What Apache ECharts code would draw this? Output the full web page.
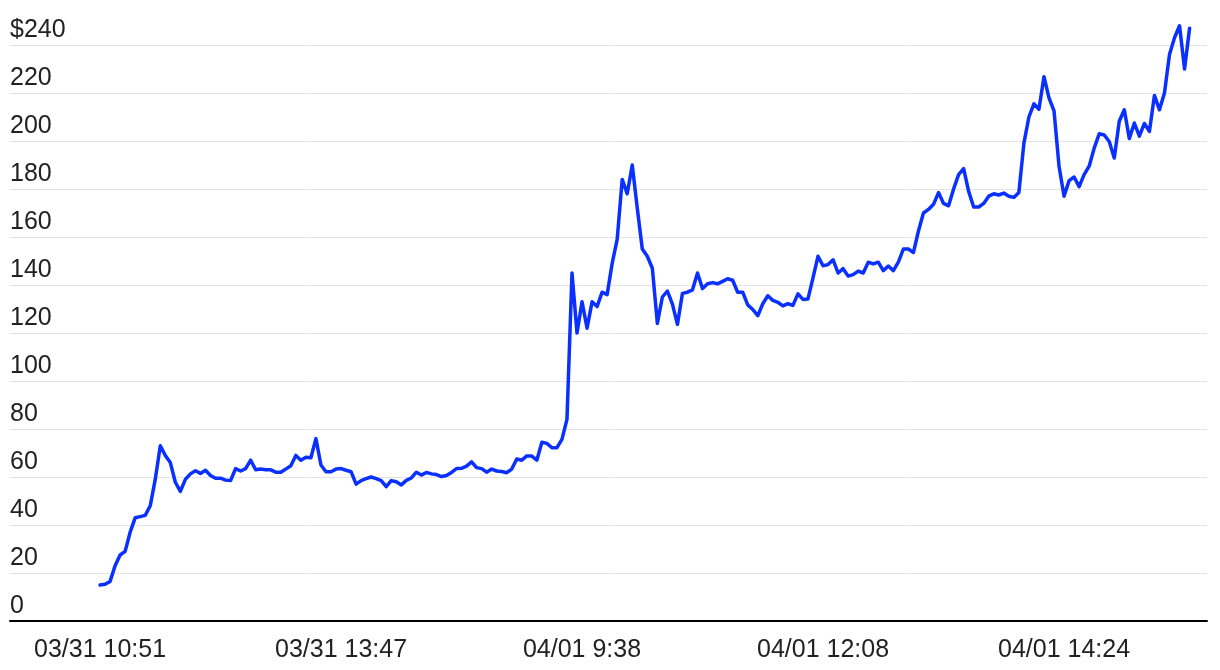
<!DOCTYPE html>
<html>
<head>
<meta charset="utf-8">
<script src="https://cdn.jsdelivr.net/npm/echarts@6/dist/echarts.min.js"></script>
<style>
html,body{margin:0;padding:0;background:#fff;}
#chart{width:1220px;height:670px;}
</style>
</head>
<body>
<div id="chart"></div>
<script>
// Tick labels for the x axis and their positions (point index)
const tickLabels = ["03/31 10:51", "03/31 13:47", "04/01 9:38", "04/01 12:08", "04/01 14:24"];
const tickIndex = [0, 48, 96, 144, 192];

// Y-axis range
const yTicks = [0, 20, 40, 60, 80, 100, 120, 140, 160, 180, 200, 220, 240];

// Price series (one value per time step)
const prices = [
  15, 15.3, 16.5, 23, 27.5, 29, 37, 43, 43.5, 44,
  48, 59, 73, 69, 66, 57.8, 54, 59, 61.3, 62.6,
  61.5, 62.8, 60.6, 59.5, 59.5, 58.7, 58.5, 63.5, 62.5, 63.5,
  67, 63, 63.3, 63, 63, 62, 62, 63.3, 64.7, 69,
  67, 68.2, 68, 76, 65, 62.2, 62.2, 63.3, 63.5, 62.8,
  62.2, 57, 58.5, 59.3, 60, 59.3, 58.5, 56, 58.5, 58,
  56.7, 58.6, 59.6, 62, 60.8, 61.9, 61.3, 61, 60.2, 60.6,
  61.9, 63.5, 63.6, 64.5, 66.3, 63.9, 63.5, 62, 63.3, 62.5,
  62.3, 61.8, 63.3, 67.5, 67, 68.8, 68.7, 67, 74.5, 74,
  72.2, 72.2, 75.7, 84, 145, 120, 133, 122, 133, 131,
  137, 136, 149, 159, 184, 178, 190, 172, 155, 152,
  147, 124, 135, 137.5, 132, 123.6, 136.5, 137, 138, 145,
  138.5, 140.5, 141, 140.5, 141.5, 142.6, 142, 137, 137, 131.7,
  129.8, 127.2, 132.2, 135.5, 133.6, 132.8, 131.3, 132.2, 131.5, 136.3,
  134, 134.2, 143, 152, 148, 148.5, 150.5, 145, 146.8, 143.7,
  144.3, 145.8, 145, 149.5, 148.8, 149.5, 146, 147.9, 146, 149.5,
  155, 155, 153.5, 162.5, 170, 171.5, 173.6, 178.5, 174, 173,
  180, 186, 188.5, 179, 172.5, 172.5, 174, 177, 178, 177.5,
  178.3, 177, 176.5, 178.5, 199, 210, 215.5, 213.2, 226.8, 218,
  212.6, 189.5, 177, 183.5, 185, 181, 186, 189.5, 197, 203,
  202.5, 199.8, 192.9, 208.2, 213, 201, 207.5, 202, 207.3, 204,
  219, 213, 220, 236, 243, 248, 230, 247
];

const seriesData = prices.map((v, i) => [i, v]);
const labelMap = {};
tickIndex.forEach((t, k) => { labelMap[t] = tickLabels[k]; });

const chart = echarts.init(document.getElementById('chart'), null, {renderer: 'canvas'});
const font = "'Liberation Sans', Arial, sans-serif";
chart.setOption({
  animation: false,
  backgroundColor: '#ffffff',
  grid: {left: 10, right: 13, top: 45, bottom: 49, containLabel: false},
  xAxis: {
    type: 'value',
    min: -17.93,
    max: 220.47,
    axisLine: {show: true, lineStyle: {color: '#000', width: 2}},
    axisTick: {show: false},
    splitLine: {show: false},
    axisLabel: {
      customValues: tickIndex,
      formatter: v => labelMap[v] || '',
      color: '#222',
      fontFamily: font,
      fontSize: 25,
      margin: 17
    }
  },
  yAxis: {
    type: 'value',
    min: yTicks[0],
    max: yTicks[yTicks.length - 1],
    interval: 20,
    axisLine: {show: false},
    axisTick: {show: false},
    splitLine: {show: true, lineStyle: {color: '#e3e3e3', width: 1}},
    axisLabel: {
      inside: true,
      margin: 0,
      align: 'left',
      verticalAlign: 'bottom',
      lineHeight: 24,
      padding: [0, 0, 3, 0],
      color: '#222',
      fontFamily: font,
      fontSize: 25,
      formatter: v => v === 240 ? '$240' : String(v)
    }
  },
  series: [{
    type: 'line',
    data: seriesData,
    clip: false,
    showSymbol: false,
    symbol: 'none',
    lineStyle: {color: '#0a30ff', width: 3.5, join: 'round', cap: 'round'},
    z: 5
  }]
});
</script>
</body>
</html>
